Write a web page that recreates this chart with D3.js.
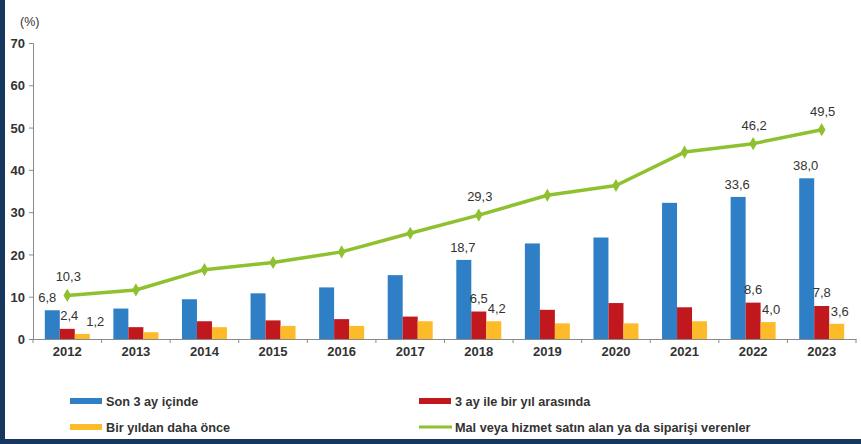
<!DOCTYPE html>
<html><head><meta charset="utf-8">
<script src="https://cdn.jsdelivr.net/npm/d3@7"></script>
<style>
html,body{margin:0;padding:0;background:#fff;}
svg{display:block;font-family:"Liberation Sans",Arial,sans-serif;}
</style></head>
<body><svg id="c" width="861" height="444"></svg>
<script>
const years = ["2012","2013","2014","2015","2016","2017","2018","2019","2020","2021","2022","2023"];
const son3Ay = [6.8,7.2,9.4,10.8,12.2,15.1,18.7,22.6,24.0,32.2,33.6,38.0];
const ucAyBirYil = [2.4,2.8,4.2,4.4,4.7,5.3,6.5,6.9,8.5,7.5,8.6,7.8];
const birYildanOnce = [1.2,1.6,2.8,3.1,3.1,4.2,4.2,3.7,3.7,4.2,4.0,3.6];
const toplam = [10.3,11.6,16.4,18.1,20.6,25.0,29.3,34.0,36.3,44.2,46.2,49.5];
const yTicks = [0,10,20,30,40,50,60,70];
const labelledYears = ["2012","2018","2022","2023"];
const seriesNames = ["Son 3 ay içinde","3 ay ile bir yıl arasında","Bir yıldan daha önce","Mal veya hizmet satın alan ya da siparişi verenler"];

const colors = {blue:"#2f7fc6", red:"#c0181d", yellow:"#fdbb2a", green:"#8fc02f", axis:"#8a8a8a", text:"#333"};
const fmt = v => d3.format(".1f")(v).replace(".", ",");

const svg = d3.select("#c");
// frame
svg.append("rect").attr("x",0).attr("y",0).attr("width",861).attr("height",444).attr("fill","#fff");
svg.append("rect").attr("x",0).attr("y",0).attr("width",5).attr("height",444).attr("fill","#16385f");
svg.append("rect").attr("x",0).attr("y",439).attr("width",861).attr("height",5).attr("fill","#16385f");

const x0 = 33, x1 = 856, yBase = 339, yTop = 43;
const x = d3.scaleBand().domain(years).range([x0, x1]).paddingInner(0).paddingOuter(0);
const y = d3.scaleLinear().domain([0,70]).range([yBase, yTop]);
const bw = 15;
const xs = d3.scaleBand().domain([0,1,2]).range([0, bw*3]);
const groupOff = (x.bandwidth() - bw*3)/2;

// y axis
const yAxis = d3.axisLeft(y).tickValues(yTicks).tickSize(4).tickFormat(d3.format("d"));
const gy = svg.append("g").attr("transform",`translate(${x0},0)`).call(yAxis);
gy.select(".domain").attr("stroke",colors.axis);
gy.selectAll(".tick line").attr("stroke",colors.axis);
gy.selectAll(".tick text").attr("fill",colors.text).attr("font-size",13).attr("font-weight","bold").attr("x",-8).attr("dy","0.36em");

svg.append("text").attr("x",20).attr("y",26).attr("font-size",12.5).attr("fill",colors.text).text("(%)");

// bars
const series = [
  {vals: son3Ay, color: colors.blue, dx: -1, gap: 8},
  {vals: ucAyBirYil, color: colors.red, dx: 0, gap: 9},
  {vals: birYildanOnce, color: colors.yellow, dx: 3, gap: 8}
];
series.forEach((s, si) => {
  svg.append("g").selectAll("rect").data(years).join("rect")
    .attr("x", d => x(d) + groupOff + xs(si))
    .attr("width", bw)
    .attr("y", (d,i) => y(s.vals[i]))
    .attr("height", (d,i) => yBase - y(s.vals[i]))
    .attr("fill", s.color);
});

// x axis
const xAxis = d3.axisBottom(x).tickSize(0).tickSizeOuter(0);
const gx = svg.append("g").attr("transform",`translate(0,${yBase})`).call(xAxis);
gx.select(".domain").attr("stroke",colors.axis);
gx.selectAll(".tick text").attr("fill",colors.text).attr("font-size",13).attr("font-weight","bold").attr("y",8);
// boundary ticks
const bounds = years.map(d => x(d)).concat([x1]);
svg.append("g").selectAll("line").data(bounds).join("line")
  .attr("x1", d=>d).attr("x2", d=>d).attr("y1", yBase).attr("y2", yBase+4)
  .attr("stroke", colors.axis);

// line
const cx = d => x(d) + x.bandwidth()/2;
const line = d3.line().x((d,i) => cx(years[i])).y(d => y(d));
svg.append("path").datum(toplam).attr("d", line).attr("fill","none")
  .attr("stroke", colors.green).attr("stroke-width", 3.5).attr("stroke-linejoin","round");
const diamond = d3.symbol().type(d3.symbolDiamond).size(50);
svg.append("g").selectAll("path").data(toplam).join("path")
  .attr("d", diamond)
  .attr("transform", (d,i) => `translate(${cx(years[i])},${y(d)})`)
  .attr("fill", colors.green);

// data labels (first year labels are nudged outward as in the original)
const lbl = svg.append("g").attr("font-size",13).attr("fill",colors.text).attr("text-anchor","middle");
const firstNudge = [-4, 2, 10];
years.forEach((yr, i) => {
  if (!labelledYears.includes(yr)) return;
  series.forEach((s, si) => {
    const extra = i === 0 ? firstNudge[si] : 0;
    lbl.append("text")
      .attr("x", x(yr) + groupOff + xs(si) + bw/2 + s.dx + extra)
      .attr("y", y(s.vals[i]) - s.gap)
      .text(fmt(s.vals[i]));
  });
  lbl.append("text").attr("x", cx(yr) + 1).attr("y", y(toplam[i]) - 14).text(fmt(toplam[i]));
});

// legend
const leg = svg.append("g").attr("font-size",12.7).attr("font-weight","bold").attr("fill",colors.text);
const legItems = [
  {name: seriesNames[0], color: colors.blue, type:"bar", lx: 70, ly: 401},
  {name: seriesNames[1], color: colors.red, type:"bar", lx: 419, ly: 401},
  {name: seriesNames[2], color: colors.yellow, type:"bar", lx: 70, ly: 427},
  {name: seriesNames[3], color: colors.green, type:"line", lx: 419, ly: 427}
];
legItems.forEach(it => {
  if (it.type === "bar") {
    leg.append("rect").attr("x", it.lx).attr("y", it.ly-3).attr("width", 32).attr("height", 6).attr("fill", it.color);
  } else {
    leg.append("line").attr("x1", it.lx).attr("x2", it.lx+33).attr("y1", it.ly).attr("y2", it.ly)
      .attr("stroke", it.color).attr("stroke-width", 3);
  }
  leg.append("text").attr("x", it.lx + 36).attr("y", it.ly + 4.5).text(it.name);
});
</script></body></html>
